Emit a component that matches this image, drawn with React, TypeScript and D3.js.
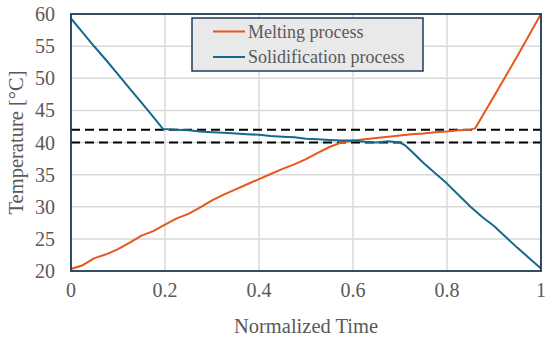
import * as d3 from "d3";

const meltT = [0, 0.025, 0.05, 0.075, 0.1, 0.125, 0.15, 0.175, 0.2, 0.225, 0.25, 0.275, 0.3, 0.325, 0.35, 0.375, 0.4, 0.425, 0.45, 0.475, 0.5, 0.525, 0.55, 0.575, 0.6, 0.625, 0.65, 0.675, 0.7, 0.725, 0.75, 0.775, 0.8, 0.825, 0.85, 0.86, 0.9, 0.95, 1.0];
const meltTemp = [20.3, 20.9, 22.0, 22.6, 23.4, 24.4, 25.5, 26.2, 27.2, 28.2, 28.9, 29.9, 31.0, 31.9, 32.7, 33.5, 34.3, 35.1, 35.9, 36.6, 37.4, 38.4, 39.3, 40.0, 40.3, 40.5, 40.7, 40.9, 41.1, 41.3, 41.4, 41.6, 41.7, 41.9, 42.0, 42.2, 47.2, 53.5, 60.0];

const solidT = [0, 0.025, 0.05, 0.075, 0.1, 0.125, 0.15, 0.175, 0.196, 0.225, 0.25, 0.275, 0.3, 0.325, 0.35, 0.375, 0.4, 0.425, 0.45, 0.475, 0.5, 0.525, 0.55, 0.575, 0.6, 0.625, 0.65, 0.675, 0.7, 0.71, 0.725, 0.75, 0.775, 0.8, 0.825, 0.85, 0.875, 0.9, 0.925, 0.95, 0.975, 1.0];
const solidTemp = [59.3, 57.1, 54.9, 52.8, 50.6, 48.4, 46.2, 44.0, 42.1, 42.0, 41.9, 41.7, 41.6, 41.5, 41.4, 41.3, 41.2, 41.0, 40.9, 40.8, 40.6, 40.5, 40.4, 40.3, 40.3, 40.1, 40.0, 40.2, 40.0, 39.6, 38.6, 36.8, 35.2, 33.6, 31.8, 30.0, 28.4, 27.0, 25.3, 23.6, 22.0, 20.4];

const refLines = [42, 40];
const xTicks = [0, 0.2, 0.4, 0.6, 0.8, 1];
const yTicks = [20, 25, 30, 35, 40, 45, 50, 55, 60];
const seriesNames = ["Melting process", "Solidification process"];
const seriesColors = ["#e8561c", "#15698c"];

const W = 550;
const H = 340;
const m = { left: 71, right: 9, top: 14, bottom: 69 };
const font = "'Liberation Serif', 'Times New Roman', serif";
const textColor = "#595959";

export default function App() {
  const x = d3.scaleLinear().domain([0, 1]).range([m.left, W - m.right]);
  const y = d3.scaleLinear().domain([20, 60]).range([H - m.bottom, m.top]);
  const line = d3
    .line<[number, number]>()
    .x((d) => x(d[0]))
    .y((d) => y(d[1]));

  const melt = meltT.map((t, i) => [t, meltTemp[i]] as [number, number]);
  const solid = solidT.map((t, i) => [t, solidTemp[i]] as [number, number]);
  const series = [melt, solid];

  // legend box
  const lx = 192;
  const ly = 18;
  const lw = 231;
  const lh = 53;

  return (
    <svg width={W} height={H} style={{ position: "absolute", left: 0, top: 0 }}>
      <rect width={W} height={H} fill="#fff" />
      {xTicks.map((t) => (
        <line key={"gx" + t} x1={x(t)} x2={x(t)} y1={y(20)} y2={y(60)} stroke="#d9d9d9" strokeWidth={1.5} />
      ))}
      {yTicks.map((t) => (
        <line key={"gy" + t} x1={x(0)} x2={x(1)} y1={y(t)} y2={y(t)} stroke="#d9d9d9" strokeWidth={1.5} />
      ))}
      {refLines.map((v) => (
        <line key={"r" + v} x1={x(0)} x2={x(1)} y1={y(v)} y2={y(v)} stroke="#000" strokeWidth={2} strokeDasharray="9 5" />
      ))}
      {series.map((s, i) => (
        <path key={i} d={line(s) ?? ""} fill="none" stroke={seriesColors[i]} strokeWidth={2} strokeLinejoin="round" />
      ))}
      <rect x={x(0)} y={y(60)} width={x(1) - x(0)} height={y(20) - y(60)} fill="none" stroke="#1f3b5b" strokeWidth={1.8} />
      {yTicks.map((t) => (
        <text key={"ty" + t} x={55} y={y(t) + 7} textAnchor="end" fontFamily={font} fontSize={20} fill={textColor}>
          {t}
        </text>
      ))}
      {xTicks.map((t) => (
        <text key={"tx" + t} x={x(t)} y={297} textAnchor="middle" fontFamily={font} fontSize={20} fill={textColor}>
          {t}
        </text>
      ))}
      <text x={(x(0) + x(1)) / 2} y={333} textAnchor="middle" fontFamily={font} fontSize={20.5} fill={textColor}>
        Normalized Time
      </text>
      <text
        transform={`translate(23,${(y(20) + y(60)) / 2}) rotate(-90)`}
        textAnchor="middle"
        fontFamily={font}
        fontSize={20.5}
        fill={textColor}
      >
        Temperature [°C]
      </text>
      <rect x={lx} y={ly} width={lw} height={lh} fill="#e9e9e9" stroke="#1f3b5b" strokeWidth={1.5} />
      {seriesNames.map((n, i) => (
        <g key={n}>
          <line x1={213} x2={245} y1={ly + 13.5 + i * 25.5} y2={ly + 13.5 + i * 25.5} stroke={seriesColors[i]} strokeWidth={2} />
          <text x={248} y={ly + 19.5 + i * 25.5} fontFamily={font} fontSize={18} fill={textColor}>
            {n}
          </text>
        </g>
      ))}
    </svg>
  );
}
